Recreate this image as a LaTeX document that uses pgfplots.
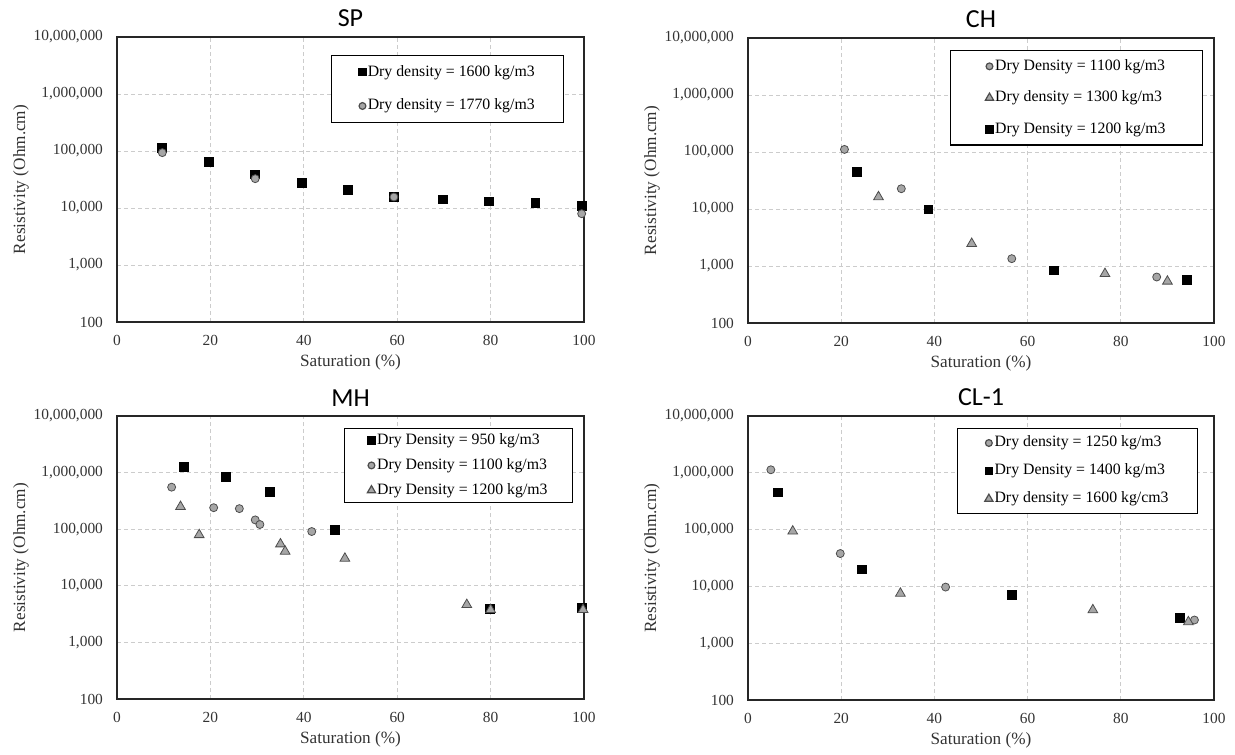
\documentclass[border=0pt]{standalone}
\usepackage{fontspec}
\setmainfont{Liberation Serif}
\newfontfamily\titlefont{Carlito}
\usepackage{pgfplots}
\pgfplotsset{compat=1.18}

\definecolor{markgray}{HTML}{A6A6A6}
\definecolor{edgegray}{HTML}{4D4D4D}

\pgfplotsset{
  rpanel/.style={
    scale only axis,
    xmin=0, xmax=100, ymin=100, ymax=10000000,
    xtick={0,20,40,60,80,100},
    ytick={100,1000,10000,100000,1000000,10000000},
    yticklabels={100,{1,000},{10,000},{100,000},{1,000,000},{10,000,000}},
    major tick length=0pt, minor tick length=0pt,
    grid=major,
    major grid style={dash pattern=on 2pt off 1.5pt, gray!40, line width=0.4pt},
    axis line style={black!85, line width=0.6pt},
    tick label style={font=\fontsize{7.7}{9}\selectfont, text=black!80},
    xticklabel style={yshift=-3pt},
    yticklabel style={xshift=-3.5pt},
    label style={font=\fontsize{8.6}{10}\selectfont, text=black!80},
    xlabel={Saturation (\%)},
    ylabel={Resistivity (Ohm.cm)},
    xlabel style={at={(axis description cs:0.5,0)}, anchor=center, yshift=-20pt},
    ylabel style={at={(axis description cs:0,0.5)}, anchor=center, rotate=0, yshift=48pt},
    every axis title shift=0pt,
    title style={font=\titlefont\fontsize{13}{15}\selectfont, at={(axis description cs:0.5,1)}, anchor=base, yshift=5pt},
    legend cell align=left,
    legend style={draw=black, line width=0.6pt, anchor=north east,
      font=\fontsize{7.9}{9}\selectfont, nodes={inner xsep=0.8pt}},
    legend image code/.code={\draw[##1, every mark/.append style={scale=0.85}] plot coordinates {(0pt,0pt)};},
    clip=false,
  },
}

\begin{document}
\begin{tikzpicture}
\useasboundingbox (0pt,0pt) rectangle (617.5pt,-377pt);

% SP
\begin{axis}[ymode=log, rpanel, /pgf/number format/assume math mode=true,
  at={(58.5pt,-161pt)}, anchor=south west,
  width=233.5pt, height=142.5pt, title={SP},
  legend style={at={(0.957,0.937)}, inner xsep=13.5pt, inner ysep=2.75pt, row sep=6pt}]
\addplot[only marks, mark=square*, mark size=2.2pt, mark options={fill=black, draw=black}] coordinates {
  (9.6,114000) (19.7,65000) (29.6,39000) (39.6,27500) (49.4,20700)
  (59.3,15800) (69.7,14200) (79.7,13100) (89.6,12100) (99.5,10800)
};
\addlegendentry{Dry density = 1600 kg/m3}
\addplot[only marks, mark=*, mark size=2pt, mark options={fill=markgray, draw=edgegray}] coordinates {
  (9.7,93600) (29.6,32700) (59.3,15600) (99.5,7950)
};
\addlegendentry{Dry density = 1770 kg/m3}
\end{axis}

% CH
\begin{axis}[ymode=log, rpanel, /pgf/number format/assume math mode=true,
  at={(374pt,-161.5pt)}, anchor=south west,
  width=233pt, height=142.5pt, title={CH},
  legend style={at={(0.976,0.958)}, inner xsep=17.5pt, inner ysep=2.4pt, row sep=4.75pt}]
\addplot[only marks, mark=*, mark size=2pt, mark options={fill=markgray, draw=edgegray}] coordinates {
  (20.7,111000) (32.9,22700) (56.6,1345) (87.7,641)
};
\addlegendentry{Dry Density = 1100 kg/m3}
\addplot[only marks, mark=triangle*, mark size=2.8pt, mark options={fill=markgray, draw=edgegray}] coordinates {
  (28.0,16300) (48.0,2470) (76.6,733) (90.0,538)
};
\addlegendentry{Dry density = 1300 kg/m3}
\addplot[only marks, mark=square*, mark size=2.2pt, mark options={fill=black, draw=black}] coordinates {
  (23.4,45200) (38.7,9860) (65.6,839) (94.2,575)
};
\addlegendentry{Dry Density = 1200 kg/m3}
\end{axis}

% MH
\begin{axis}[ymode=log, rpanel, /pgf/number format/assume math mode=true,
  at={(58.5pt,-349.5pt)}, anchor=south west,
  width=233.5pt, height=141.5pt, title={MH},
  legend style={at={(0.976,0.958)}, inner xsep=11.5pt, inner ysep=0.5pt, row sep=1.5pt}]
\addplot[only marks, mark=square*, mark size=2.2pt, mark options={fill=black, draw=black}] coordinates {
  (14.3,1241000) (23.4,851000) (32.8,452000) (46.7,98600) (79.8,3950) (99.5,4110)
};
\addlegendentry{Dry Density = 950 kg/m3}
\addplot[only marks, mark=*, mark size=2pt, mark options={fill=markgray, draw=edgegray}] coordinates {
  (11.7,553000) (20.7,240000) (26.2,231000) (29.6,146000) (30.6,121000) (41.7,91000)
};
\addlegendentry{Dry Density = 1100 kg/m3}
\addplot[only marks, mark=triangle*, mark size=2.8pt, mark options={fill=markgray, draw=edgegray}] coordinates {
  (13.6,250000) (17.6,79600) (35.0,54600) (36.0,40600) (48.8,30500)
  (74.9,4640) (80.0,3790) (99.8,3790)
};
\addlegendentry{Dry Density = 1200 kg/m3}
\end{axis}

% CL-1
\begin{axis}[ymode=log, rpanel, /pgf/number format/assume math mode=true,
  at={(374pt,-350pt)}, anchor=south west,
  width=233pt, height=142pt, title={CL-1},
  legend style={at={(0.965,0.958)}, inner xsep=13.5pt, inner ysep=1.75pt, row sep=3pt}]
\addplot[only marks, mark=*, mark size=2pt, mark options={fill=markgray, draw=edgegray}] coordinates {
  (4.9,1130000) (19.8,37900) (42.4,9730) (95.8,2560)
};
\addlegendentry{Dry density = 1250 kg/m3}
\addplot[only marks, mark=square*, mark size=2.2pt, mark options={fill=black, draw=black}] coordinates {
  (6.4,452000) (24.4,19900) (56.6,7050) (92.6,2820)
};
\addlegendentry{Dry Density = 1400 kg/m3}
\addplot[only marks, mark=triangle*, mark size=2.8pt, mark options={fill=markgray, draw=edgegray}] coordinates {
  (9.6,93600) (32.7,7530) (74.0,3850) (94.5,2370)
};
\addlegendentry{Dry density = 1600 kg/cm3}
\end{axis}
\end{tikzpicture}
\end{document}
